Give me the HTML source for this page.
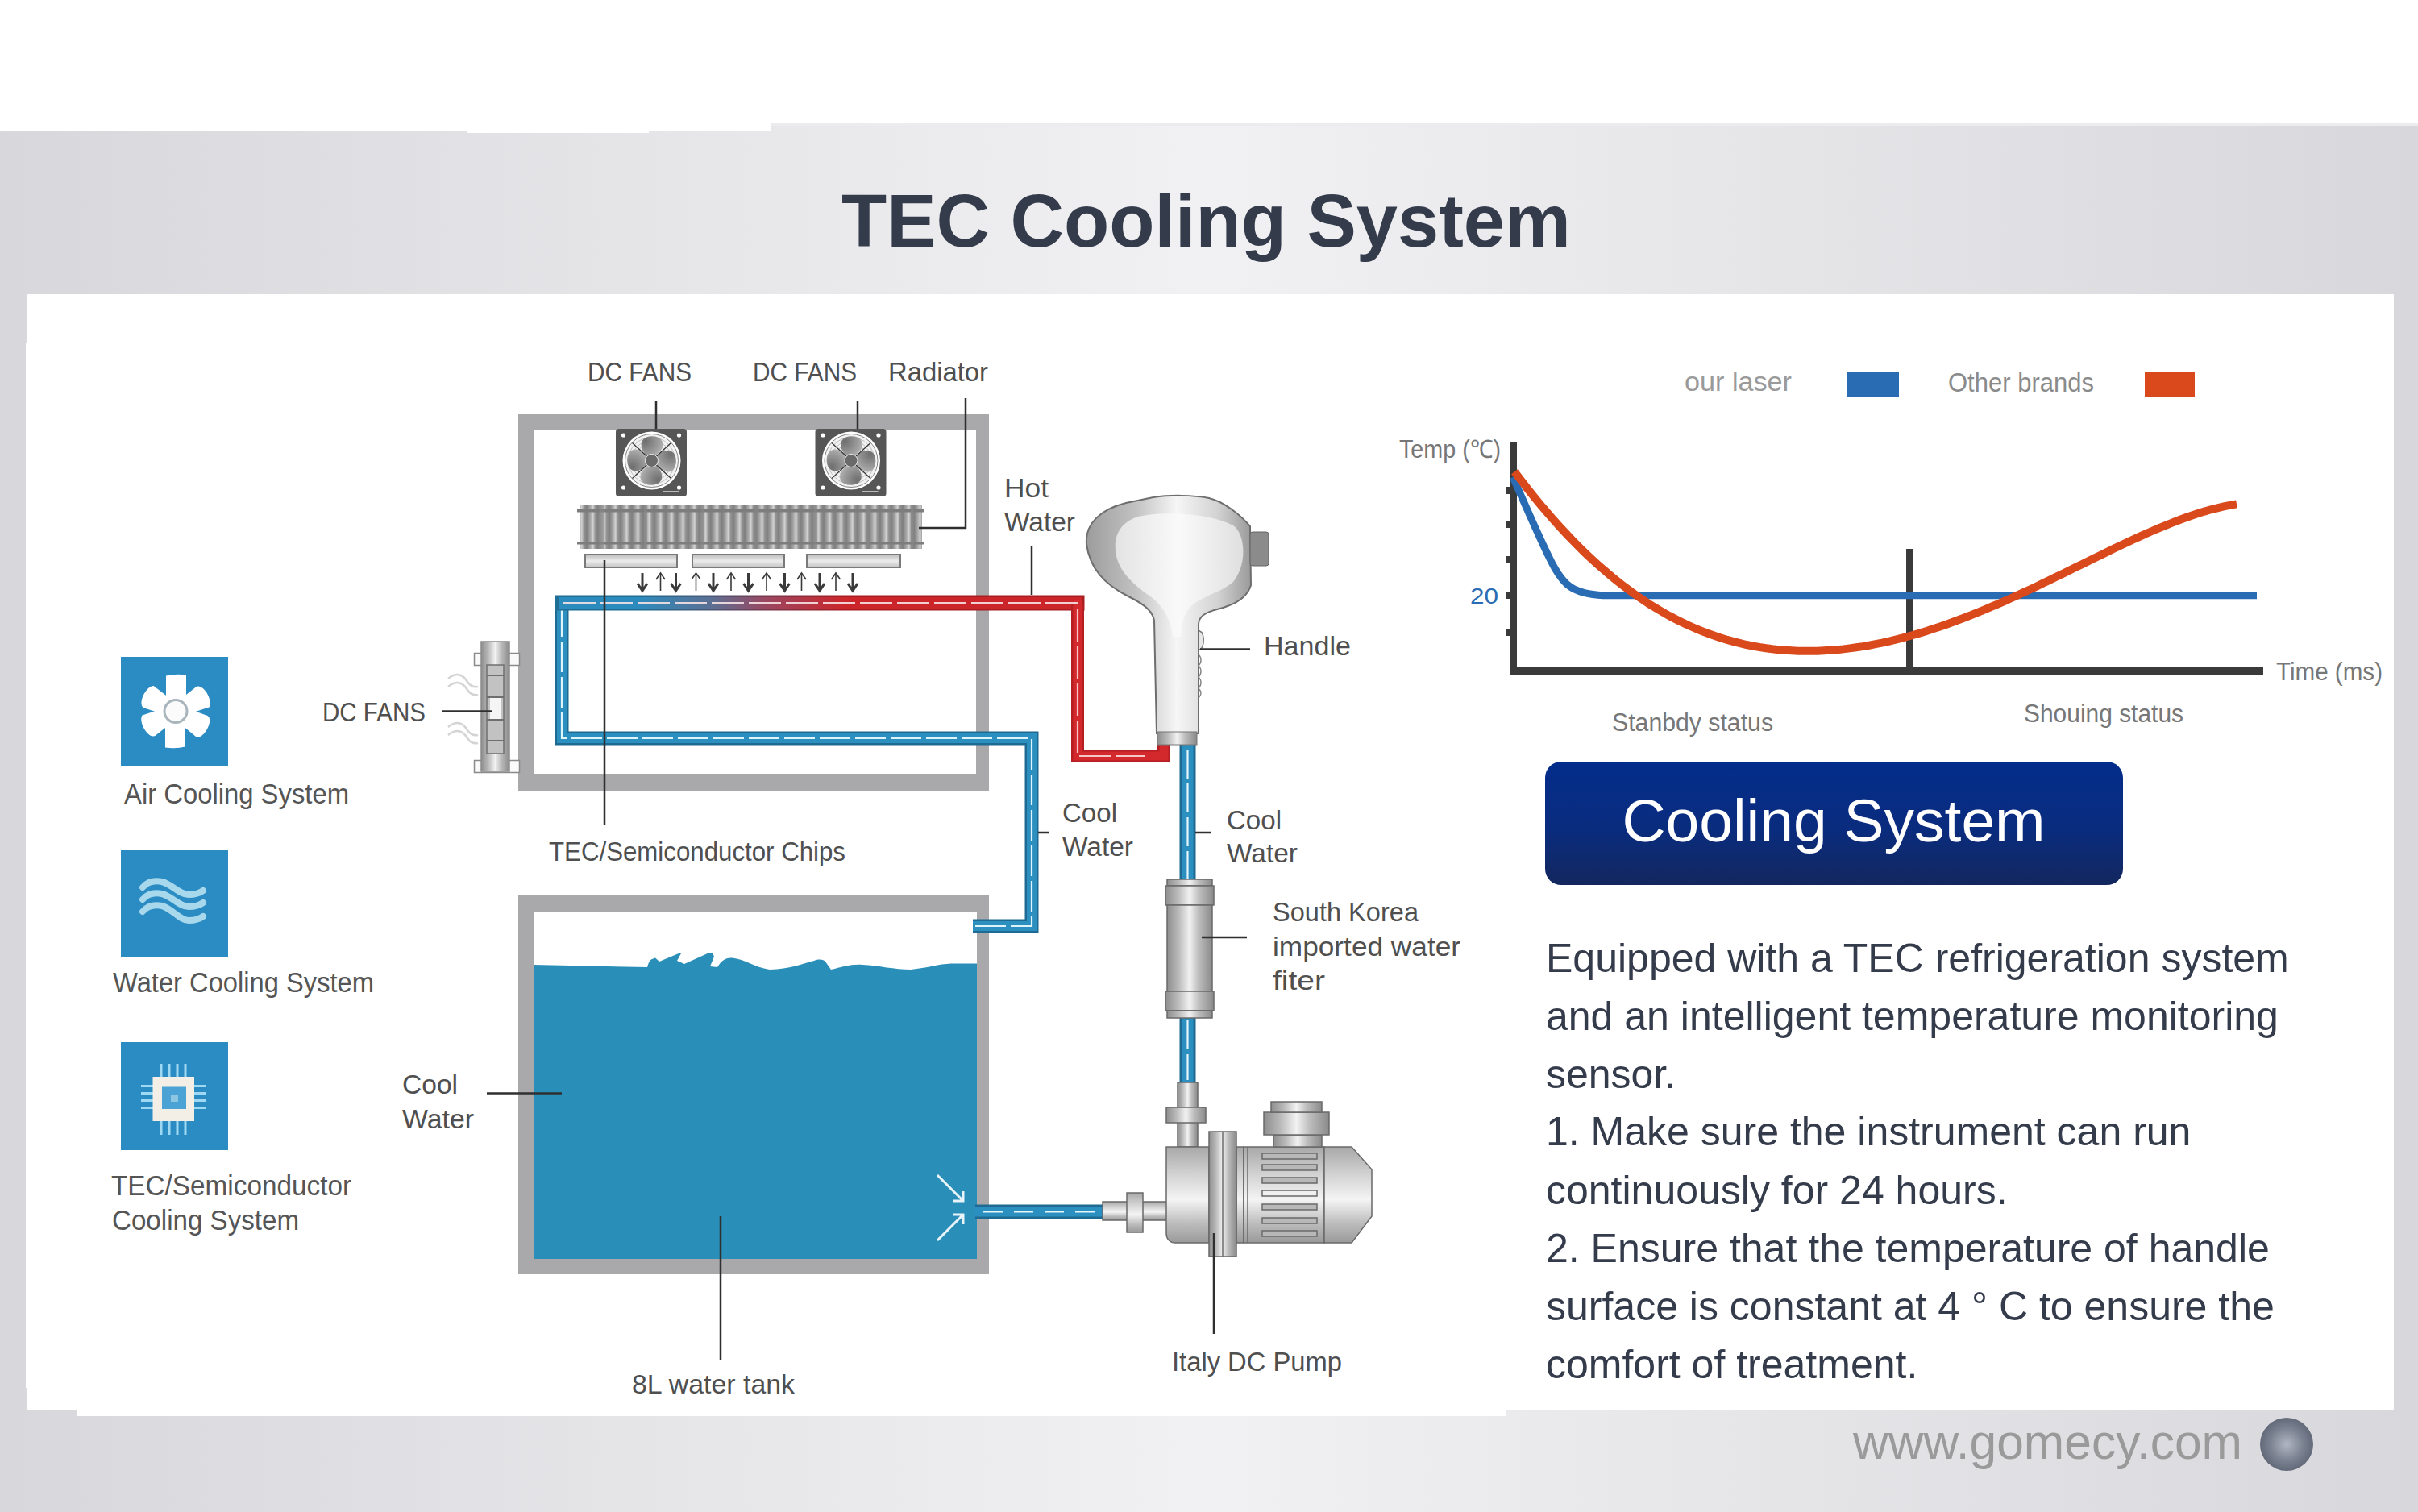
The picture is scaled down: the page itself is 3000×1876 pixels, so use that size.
<!DOCTYPE html>
<html><head><meta charset="utf-8">
<style>
html,body{margin:0;padding:0;width:3000px;height:1876px;overflow:hidden;background:#fff;}
svg{position:absolute;left:0;top:0;display:block;}
text{font-family:"Liberation Sans",sans-serif;}
</style></head><body>
<svg width="3000" height="1876" viewBox="0 0 3000 1876">
<defs>
  <linearGradient id="bg" x1="0" y1="0" x2="1" y2="0">
    <stop offset="0" stop-color="#d8d8dc"/>
    <stop offset="0.5" stop-color="#f1f1f3"/>
    <stop offset="1" stop-color="#d8d8dc"/>
  </linearGradient>
  <linearGradient id="btn" x1="0" y1="0" x2="0" y2="1">
    <stop offset="0" stop-color="#032d8b"/>
    <stop offset="0.55" stop-color="#0a2c7e"/>
    <stop offset="1" stop-color="#13275e"/>
  </linearGradient>
  <radialGradient id="ball" cx="0.5" cy="0.5" r="0.5">
    <stop offset="0" stop-color="#b0b6c2"/>
    <stop offset="0.6" stop-color="#7c8392"/>
    <stop offset="1" stop-color="#626a7a"/>
  </radialGradient>
</defs>
<!-- background band -->
<rect x="0" y="153" width="3000" height="1723" fill="url(#bg)"/>
<rect x="957" y="153" width="2043" height="3" fill="#ececee"/>
<rect x="0" y="153" width="957" height="9" fill="#fff"/>
<rect x="580" y="160" width="225" height="5" fill="#fff"/>
<!-- white panel -->
<rect x="34" y="365" width="2936" height="1385" fill="#fff"/>
<rect x="32" y="425" width="2938" height="1297" fill="#fff"/>
<rect x="96" y="1749" width="1772" height="8" fill="#fff"/>

<!-- title -->
<text x="1044" y="306" font-size="92" font-weight="bold" fill="#343b4b">TEC Cooling System</text>

<!-- footer -->
<text x="2299" y="1810" font-size="60.5" fill="#9a9a9a">www.gomecy.com</text>
<circle cx="2837" cy="1792" r="33" fill="url(#ball)"/>

<!-- left icons -->
<g id="icons">
  <rect x="150" y="815" width="133" height="136" fill="#2b8cc3"/>
  <g transform="translate(218,882.5)" fill="#fff">
    <path d="M-12,-10 L-12,-44 Q0,-47 13,-45 L13,-10 Z"/>
    <path d="M-12,-10 L-12,-44 Q0,-47 13,-45 L13,-10 Z" transform="rotate(180)"/>
    <path d="M-10,-10 L-15,-37 C-14,-47 11,-47 15,-39 L10,-10 Z" transform="rotate(62)"/>
    <path d="M-10,-10 L-15,-37 C-14,-47 11,-47 15,-39 L10,-10 Z" transform="rotate(120)"/>
    <path d="M-10,-10 L-15,-37 C-14,-47 11,-47 15,-39 L10,-10 Z" transform="rotate(242)"/>
    <path d="M-10,-10 L-15,-37 C-14,-47 11,-47 15,-39 L10,-10 Z" transform="rotate(298)"/>
    <circle r="18"/>
    <circle r="14" fill="#fbfbfb" stroke="#a9b5bd" stroke-width="3"/>
  </g>
  <rect x="150" y="1055" width="133" height="133" fill="#2b8cc3"/>
  <g fill="none" stroke="#a8d8ec" stroke-width="8" stroke-linecap="round">
    <path d="M177,1101 C183,1094 191,1092 201,1094 C213,1097 223,1110 234,1110 C242,1110 248,1108 252,1105"/>
    <path d="M177,1116 C183,1109 191,1107 201,1109 C213,1112 223,1125 234,1125 C242,1125 248,1123 252,1120"/>
    <path d="M177,1131 C183,1124 191,1122 201,1124 C213,1127 223,1142 234,1142 C242,1142 248,1140 252,1137"/>
  </g>
  <rect x="150" y="1293" width="133" height="134" fill="#2b8cc3"/>
  <g fill="#9fd8f2">
    <rect x="198.5" y="1320" width="3" height="88"/>
    <rect x="208.5" y="1320" width="3" height="88"/>
    <rect x="218.5" y="1320" width="3" height="88"/>
    <rect x="228.5" y="1320" width="3" height="88"/>
    <rect x="175" y="1346" width="81" height="3"/>
    <rect x="175" y="1355" width="81" height="3"/>
    <rect x="175" y="1364" width="81" height="3"/>
    <rect x="175" y="1373" width="81" height="3"/>
  </g>
  <rect x="189.5" y="1336" width="51.5" height="55" fill="#f3efe6"/>
  <rect x="201" y="1348.5" width="30" height="27.5" fill="#4aa3d4"/>
  <rect x="212" y="1359" width="9" height="8" fill="#8cc6e2"/>
  <g font-size="35" fill="#555">
    <text x="154" y="997" textLength="279" lengthAdjust="spacingAndGlyphs">Air Cooling System</text>
    <text x="140" y="1231" textLength="324" lengthAdjust="spacingAndGlyphs">Water Cooling System</text>
    <text x="138" y="1483" textLength="298" lengthAdjust="spacingAndGlyphs">TEC/Semiconductor</text>
    <text x="139" y="1526" textLength="232" lengthAdjust="spacingAndGlyphs">Cooling System</text>
  </g>
</g>

<!-- diagram -->
<g id="diagram">
  <defs>
    <linearGradient id="pipeTop" gradientUnits="userSpaceOnUse" x1="790" y1="0" x2="1050" y2="0">
      <stop offset="0" stop-color="#2b8bbd"/>
      <stop offset="0.35" stop-color="#5a7094"/>
      <stop offset="0.62" stop-color="#9b4660"/>
      <stop offset="1" stop-color="#cc2529"/>
    </linearGradient>
    <linearGradient id="pipeTopDark" gradientUnits="userSpaceOnUse" x1="790" y1="0" x2="1050" y2="0">
      <stop offset="0" stop-color="#1f6e96"/>
      <stop offset="0.35" stop-color="#4a5a78"/>
      <stop offset="0.62" stop-color="#7a3a50"/>
      <stop offset="1" stop-color="#a81e22"/>
    </linearGradient>
    <linearGradient id="finG" gradientUnits="userSpaceOnUse" x1="0" y1="0" x2="14" y2="0" spreadMethod="repeat">
      <stop offset="0" stop-color="#7e7e7e"/>
      <stop offset="0.3" stop-color="#a4a4a4"/>
      <stop offset="0.55" stop-color="#d2d2d2"/>
      <stop offset="0.75" stop-color="#959595"/>
      <stop offset="1" stop-color="#7e7e7e"/>
    </linearGradient>
    <linearGradient id="chipG" x1="0" y1="0" x2="0" y2="1">
      <stop offset="0" stop-color="#bdbdbd"/>
      <stop offset="0.5" stop-color="#ececec"/>
      <stop offset="1" stop-color="#c4c4c4"/>
    </linearGradient>
    <radialGradient id="bladeG" gradientUnits="userSpaceOnUse" cx="-8" cy="-24" r="30">
      <stop offset="0" stop-color="#6e6e6e"/>
      <stop offset="0.6" stop-color="#a0a0a0"/>
      <stop offset="1" stop-color="#d0d0d0"/>
    </radialGradient>
    <g id="fan">
      <rect x="0" y="0" width="88" height="84" rx="4" fill="#565656"/>
      <circle cx="44.5" cy="39.5" r="36" fill="#fff"/>
      <circle cx="44.5" cy="39.5" r="33" fill="#f2f2f2" stroke="#666" stroke-width="0.8"/>
      <g transform="translate(44.5,39.5)">
        <g stroke="#999" stroke-width="0.6" fill="none">
          <circle r="29"/><circle r="25"/><circle r="21"/><circle r="17"/>
        </g>
        <g fill="url(#bladeG)">
          <path d="M-6,-6 C-16,-16 -15,-28 -3,-30 C10,-32 17,-24 13,-15 C11,-11 7,-8 5,-6 Z"/>
          <path d="M-6,-6 C-16,-16 -15,-28 -3,-30 C10,-32 17,-24 13,-15 C11,-11 7,-8 5,-6 Z" transform="rotate(90)"/>
          <path d="M-6,-6 C-16,-16 -15,-28 -3,-30 C10,-32 17,-24 13,-15 C11,-11 7,-8 5,-6 Z" transform="rotate(180)"/>
          <path d="M-6,-6 C-16,-16 -15,-28 -3,-30 C10,-32 17,-24 13,-15 C11,-11 7,-8 5,-6 Z" transform="rotate(270)"/>
        </g>
        <g stroke="#333" stroke-width="1.2">
          <line x1="-24" y1="-22" x2="24" y2="22"/>
          <line x1="-24" y1="22" x2="24" y2="-22"/>
        </g>
        <circle r="8" fill="#6a6a6a" stroke="#eee" stroke-width="1"/>
      </g>
      <g fill="#fff"><circle cx="9.5" cy="8" r="2.6"/><circle cx="78.5" cy="8" r="2.6"/><circle cx="9.5" cy="73" r="2.6"/><circle cx="78.5" cy="73" r="2.6"/></g>
      <rect x="58" y="77" width="20" height="2" fill="#bbb"/>
    </g>
  </defs>

  <!-- upper box frame -->
  <path d="M643,514 H1227 V982 H643 Z M662,534 V960 H1211 V534 Z" fill="#a9a8aa" fill-rule="evenodd"/>
  <!-- lower tank frame -->
  <path d="M643,1110 H1227 V1581 H643 Z M662,1131 V1562 H1212 V1131 Z" fill="#a9a8aa" fill-rule="evenodd"/>
  <!-- water -->
  <path d="M662,1197 L803,1200 C805,1194 806,1191 809,1190 L813,1188.5 L818,1193 L842,1183 L845,1183 L840,1192 L849,1196 L880,1182 L884,1182 L886,1187 L881,1199 L890,1200 C895,1192 900,1188 908,1188.5 C925,1190 935,1200 955,1203 C980,1202 995,1196 1010,1192 C1016,1190 1020,1190 1024,1193 L1031,1203 C1045,1200 1055,1196 1070,1197 C1090,1198 1110,1203 1130,1203 C1150,1201 1165,1196 1180,1195.5 L1212,1195.5 L1212,1562 L662,1562 Z" fill="#2a8fb8"/>
  <!-- arrows in tank -->
  <g stroke="#e8f4fa" stroke-width="3" fill="none">
    <path d="M1163,1458 L1195,1490 M1195,1478 V1490 H1183"/>
    <path d="M1163,1539 L1195,1507 M1183,1507 H1195 V1519"/>
  </g>

  <!-- fans -->
  <use href="#fan" x="764" y="532"/>
  <use href="#fan" x="1011.5" y="532"/>

  <!-- radiator -->
  <rect x="720" y="626" width="424" height="55" fill="url(#finG)"/>
  <g fill="#7d7d7d">
    <rect x="716" y="631" width="430" height="4.5"/>
    <rect x="716" y="672.5" width="430" height="3"/>
  </g>
  <g fill="#888" opacity="0.6">
    <rect x="745" y="626" width="4" height="55"/><rect x="799" y="626" width="4" height="55"/><rect x="870" y="626" width="4" height="55"/><rect x="936" y="626" width="4" height="55"/><rect x="1010" y="626" width="4" height="55"/><rect x="1075" y="626" width="4" height="55"/><rect x="1130" y="626" width="4" height="55"/>
  </g>

  <!-- chips -->
  <g fill="url(#chipG)" stroke="#7a7a7a" stroke-width="2">
    <rect x="726" y="688" width="114" height="16"/>
    <rect x="859" y="688" width="114" height="16"/>
    <rect x="1001" y="688" width="116" height="16"/>
  </g>

  <!-- small arrows -->
  <g id="arrows" stroke="#3a3a3a" fill="none" stroke-linecap="butt">
    <path d="M797,711 V731 M791,724 L797,733 L803,724" stroke-width="3"/>
    <path d="M819.5,733 V712 M814,719 L819.5,711 L825,719" stroke-width="1.6"/>
    <path d="M838.5,711 V731 M832.5,724 L838.5,733 L844.5,724" stroke-width="3"/>
    <path d="M863.5,733 V712 M858,719 L863.5,711 L869,719" stroke-width="1.6"/>
    <path d="M885,711 V731 M879,724 L885,733 L891,724" stroke-width="3"/>
    <path d="M907,733 V712 M901.5,719 L907,711 L912.5,719" stroke-width="1.6"/>
    <path d="M928.5,711 V731 M922.5,724 L928.5,733 L934.5,724" stroke-width="3"/>
    <path d="M951,733 V712 M945.5,719 L951,711 L956.5,719" stroke-width="1.6"/>
    <path d="M973.5,711 V731 M967.5,724 L973.5,733 L979.5,724" stroke-width="3"/>
    <path d="M994.5,733 V712 M989,719 L994.5,711 L1000,719" stroke-width="1.6"/>
    <path d="M1017,711 V731 M1011,724 L1017,733 L1023,724" stroke-width="3"/>
    <path d="M1037,733 V712 M1031.5,719 L1037,711 L1042.5,719" stroke-width="1.6"/>
    <path d="M1058,711 V731 M1052,724 L1058,733 L1064,724" stroke-width="3"/>
  </g>

  <!-- pipes -->
  <g fill="none" stroke-linejoin="miter" stroke-linecap="butt">
    <!-- blue loop (left/bottom/right) -->
    <path d="M697,748 V916 H1280 V1149 H1207" stroke="#1f6a92" stroke-width="17"/>
    <path d="M697,748 V916 H1280 V1149 H1207" stroke="#2b8fc0" stroke-width="12"/>
    <path d="M697,752 V916 H1280 V1149 H1210" stroke="#dff3fb" stroke-width="2.2" stroke-dasharray="38 6"/>
    <!-- top horizontal -->
    <path d="M689,748 H1345.5" stroke="url(#pipeTopDark)" stroke-width="19"/>
    <path d="M693,748 H1342" stroke="url(#pipeTop)" stroke-width="14"/>
    <!-- red segment -->
    <path d="M1337,750 V938 H1444 V921" stroke="#b51f24" stroke-width="16"/>
    <path d="M1337,744 V938 H1444 V922" stroke="#d3282c" stroke-width="11"/>
    <path d="M1337,748 H697" stroke="#f6e2e4" stroke-width="2.2" stroke-dasharray="40 6" opacity="0.9"/>
    <path d="M1337,756 V938 H1420" stroke="#f8d8d8" stroke-width="2.2" stroke-dasharray="40 6" opacity="0.9"/>
    <!-- handle to pump -->
    <path d="M1473.5,922 V1344" stroke="#1f6a92" stroke-width="20"/>
    <path d="M1473.5,922 V1344" stroke="#2b8fc0" stroke-width="14"/>
    <path d="M1473.5,930 V1340" stroke="#e6f6fc" stroke-width="2.2" stroke-dasharray="36 6"/>
    <!-- tank outlet -->
    <path d="M1210,1503.5 H1368" stroke="#1f6a92" stroke-width="18"/>
    <path d="M1210,1503.5 H1368" stroke="#2b8fc0" stroke-width="12"/>
    <path d="M1220,1503.5 H1365" stroke="#e6f6fc" stroke-width="2.2" stroke-dasharray="24 14"/>
  </g>
  <!-- parts -->
  <defs>
    <linearGradient id="metalH" x1="0" y1="0" x2="1" y2="0">
      <stop offset="0" stop-color="#8e8e8e"/>
      <stop offset="0.25" stop-color="#b9b9b9"/>
      <stop offset="0.5" stop-color="#f2f2f2"/>
      <stop offset="0.7" stop-color="#bdbdbd"/>
      <stop offset="1" stop-color="#8a8a8a"/>
    </linearGradient>
    <linearGradient id="metalV" x1="0" y1="0" x2="0" y2="1">
      <stop offset="0" stop-color="#a8a8a8"/>
      <stop offset="0.3" stop-color="#d4d4d4"/>
      <stop offset="0.55" stop-color="#f4f4f4"/>
      <stop offset="0.8" stop-color="#bcbcbc"/>
      <stop offset="1" stop-color="#9a9a9a"/>
    </linearGradient>
    <linearGradient id="handleG" x1="0" y1="0" x2="1" y2="0">
      <stop offset="0" stop-color="#9c9c9c"/>
      <stop offset="0.3" stop-color="#c2c2c2"/>
      <stop offset="0.55" stop-color="#f6f6f6"/>
      <stop offset="0.8" stop-color="#d2d2d2"/>
      <stop offset="1" stop-color="#9a9a9a"/>
    </linearGradient>
    <linearGradient id="headIn" x1="0" y1="0" x2="1" y2="0">
      <stop offset="0" stop-color="#e6e6e6"/>
      <stop offset="0.5" stop-color="#fafafa"/>
      <stop offset="1" stop-color="#e2e2e2"/>
    </linearGradient>
  </defs>

  <!-- side fan -->
  <g>
    <g fill="none" stroke="#d4d4d4" stroke-width="2.5">
      <path d="M556,842 C566,834 574,836 580,846 C584,852 588,853 593,852"/>
      <path d="M556,852 C566,844 574,846 580,856 C584,862 588,863 593,862"/>
      <path d="M556,902 C566,894 574,896 580,906 C584,912 588,913 593,912"/>
      <path d="M556,912 C566,904 574,906 580,916 C584,922 588,923 593,922"/>
    </g>
    <g fill="#fafafa" stroke="#8a8a8a" stroke-width="1.5">
      <rect x="588.5" y="810.5" width="56" height="15"/>
      <rect x="588.5" y="943.5" width="56" height="15"/>
    </g>
    <rect x="597" y="796" width="35" height="161" fill="url(#metalH)" stroke="#8a8a8a" stroke-width="1.5"/>
    <rect x="604" y="825" width="21" height="110" fill="#c2c2c2" stroke="#6f6f6f" stroke-width="1.5"/>
    <g fill="#6f6f6f"><rect x="604" y="837" width="21" height="2"/><rect x="604" y="864" width="21" height="2"/><rect x="604" y="892" width="21" height="2"/><rect x="604" y="918" width="21" height="2"/></g>
    <rect x="608" y="866" width="14" height="26" fill="#f5f5f5"/>
  </g>

  <!-- handle -->
  <g>
    <path d="M1431,617 C1450,614 1480,614 1500,618 C1520,623 1540,640 1551,653 L1552,726 C1548,740 1535,750 1510,756 C1495,760 1487,765 1487,775 L1487,910 L1435,910 L1432,770 C1430,758 1420,750 1400,740 C1370,725 1352,705 1348,675 C1346,650 1365,632 1397,624 Z" fill="url(#handleG)" stroke="#6e6e6e" stroke-width="2"/>
    <path d="M1412,641 C1440,634 1500,636 1530,652 C1545,662 1548,700 1530,722 C1515,735 1490,740 1478,752 C1468,762 1466,775 1465,790 L1455,790 C1453,770 1445,755 1430,742 C1410,728 1390,712 1385,690 C1380,665 1390,648 1412,641 Z" fill="url(#headIn)" opacity="0.95"/>
    <rect x="1551" y="660" width="23" height="42" rx="3" fill="#8b8b8b" stroke="#666" stroke-width="1"/>
    <path d="M1487,782 C1492,784 1494,790 1493,798 C1492,804 1489,806 1487,806" fill="#e8e8e8" stroke="#777" stroke-width="1.5"/>
    <path d="M1487,812 C1491,816 1491,822 1487,826 C1491,830 1491,836 1487,840 C1491,844 1491,850 1487,854 C1491,858 1491,862 1487,866" fill="none" stroke="#888" stroke-width="1.5"/>
    <rect x="1436" y="908" width="49" height="16" fill="url(#metalH)" stroke="#777" stroke-width="1"/>
  </g>

  <!-- filter -->
  <g stroke="#6a6a6a" stroke-width="1.5">
    <rect x="1448" y="1091" width="56" height="8" fill="url(#metalH)"/>
    <rect x="1446" y="1099" width="60" height="24" fill="url(#metalH)"/>
    <rect x="1448" y="1123" width="56" height="107" fill="url(#metalH)"/>
    <rect x="1446" y="1230" width="60" height="24" fill="url(#metalH)"/>
    <rect x="1448" y="1254" width="56" height="9" fill="url(#metalH)"/>
  </g>

  <!-- pump -->
  <g stroke="#6a6a6a" stroke-width="1.5">
    <rect x="1461" y="1343" width="25" height="80" fill="url(#metalH)"/>
    <rect x="1447" y="1374" width="49" height="19" fill="url(#metalH)"/>
    <rect x="1368" y="1491" width="80" height="23" fill="url(#metalV)"/>
    <rect x="1398" y="1480" width="20" height="49" fill="url(#metalV)"/>
    <path d="M1447,1423 H1500 V1542 H1458 C1451,1542 1447,1537 1447,1530 Z" fill="url(#metalV)"/>
    <rect x="1534" y="1423" width="9" height="119" fill="url(#metalV)"/>
    <rect x="1543" y="1423" width="100" height="119" fill="url(#metalV)"/>
    <path d="M1643,1423 H1677 L1702,1451 V1509 L1677,1542 H1643 Z" fill="url(#metalV)"/>
    <rect x="1500" y="1404" width="34" height="155" fill="url(#metalH)"/>
    <line x1="1517" y1="1404" x2="1517" y2="1559"/>
    <line x1="1548" y1="1423" x2="1548" y2="1542"/>
    <rect x="1580" y="1408" width="60" height="15" fill="url(#metalH)"/>
    <rect x="1568" y="1380" width="81" height="28" fill="url(#metalH)"/>
    <rect x="1577" y="1367" width="63" height="13" fill="url(#metalH)"/>
  </g>
  <g fill="#b8b8b8" stroke="#6a6a6a" stroke-width="1.5">
    <rect x="1566" y="1431" width="68" height="7"/>
    <rect x="1566" y="1445" width="68" height="7"/>
    <rect x="1566" y="1461" width="68" height="7"/>
    <rect x="1566" y="1477" width="68" height="7" fill="#f0f0f0"/>
    <rect x="1566" y="1494" width="68" height="7"/>
    <rect x="1566" y="1511" width="68" height="7"/>
    <rect x="1566" y="1527" width="68" height="7"/>
  </g>

  <!-- leader lines -->
  <g stroke="#2f2f2f" stroke-width="2.5" fill="none">
    <path d="M814,497 V532"/>
    <path d="M1064,497 V532"/>
    <path d="M1198,494 V655 H1140"/>
    <path d="M750,695 V1023"/>
    <path d="M1280,677 V738"/>
    <path d="M1489,805.5 H1551"/>
    <path d="M1288,1033 H1301"/>
    <path d="M1483,1033 H1502"/>
    <path d="M1491,1163 H1547"/>
    <path d="M1506,1530 V1655"/>
    <path d="M894,1509 V1688"/>
    <path d="M604,1356.5 H697"/>
    <path d="M548,882.5 H611"/>
  </g>

  <!-- labels -->
  <g font-size="34" fill="#4f4f4f">
    <text x="729" y="473" textLength="129" lengthAdjust="spacingAndGlyphs">DC FANS</text>
    <text x="934" y="473" textLength="129" lengthAdjust="spacingAndGlyphs">DC FANS</text>
    <text x="1102" y="473" textLength="124" lengthAdjust="spacingAndGlyphs">Radiator</text>
    <text x="400" y="895" textLength="128" lengthAdjust="spacingAndGlyphs">DC FANS</text>
    <text x="1246" y="616.5" textLength="55" lengthAdjust="spacingAndGlyphs">Hot</text>
    <text x="1246" y="658.5" textLength="88" lengthAdjust="spacingAndGlyphs">Water</text>
    <text x="1568" y="813" textLength="108" lengthAdjust="spacingAndGlyphs">Handle</text>
    <text x="681" y="1068" textLength="368" lengthAdjust="spacingAndGlyphs">TEC/Semiconductor Chips</text>
    <text x="1318" y="1020" textLength="68" lengthAdjust="spacingAndGlyphs">Cool</text>
    <text x="1318" y="1062" textLength="88" lengthAdjust="spacingAndGlyphs">Water</text>
    <text x="1522" y="1028.5" textLength="68" lengthAdjust="spacingAndGlyphs">Cool</text>
    <text x="1522" y="1070" textLength="88" lengthAdjust="spacingAndGlyphs">Water</text>
    <text x="1579" y="1143" textLength="181" lengthAdjust="spacingAndGlyphs">South Korea</text>
    <text x="1579" y="1185.5" textLength="233" lengthAdjust="spacingAndGlyphs">imported water</text>
    <text x="1579" y="1228" textLength="65" lengthAdjust="spacingAndGlyphs">fiter</text>
    <text x="499" y="1357" textLength="69" lengthAdjust="spacingAndGlyphs">Cool</text>
    <text x="499" y="1400" textLength="89" lengthAdjust="spacingAndGlyphs">Water</text>
    <text x="784" y="1728.5" textLength="202" lengthAdjust="spacingAndGlyphs">8L water tank</text>
    <text x="1454" y="1701" textLength="211" lengthAdjust="spacingAndGlyphs">Italy DC Pump</text>
  </g>
</g>

<!-- chart -->
<g id="chart">
  <text x="2090" y="485" font-size="34" fill="#9a9a9a" textLength="133" lengthAdjust="spacingAndGlyphs">our laser</text>
  <rect x="2292" y="461" width="64" height="32" fill="#2a6cb3"/>
  <text x="2417" y="486" font-size="33" fill="#8a8a8a" textLength="181" lengthAdjust="spacingAndGlyphs">Other brands</text>
  <rect x="2661" y="461" width="62" height="32" fill="#d9491c"/>
  <text x="1736" y="568" font-size="31" fill="#777" textLength="126" lengthAdjust="spacingAndGlyphs">Temp (℃)</text>
  <text x="1824" y="749" font-size="28" fill="#2a6cb3" textLength="35" lengthAdjust="spacingAndGlyphs">20</text>
  <text x="2824" y="844" font-size="31" fill="#777" textLength="132" lengthAdjust="spacingAndGlyphs">Time (ms)</text>
  <text x="2000" y="907" font-size="31" fill="#777" textLength="200" lengthAdjust="spacingAndGlyphs">Stanbdy status</text>
  <text x="2511" y="896" font-size="31" fill="#777" textLength="198" lengthAdjust="spacingAndGlyphs">Shouing status</text>
  <g fill="#3a3a3a">
    <rect x="1873" y="549" width="9" height="288"/>
    <rect x="1873" y="828" width="935" height="9"/>
    <rect x="2365" y="681" width="9" height="150"/>
    <rect x="1868" y="604" width="8" height="9"/>
    <rect x="1868" y="646" width="8" height="9"/>
    <rect x="1868" y="690" width="8" height="9"/>
    <rect x="1868" y="734" width="8" height="9"/>
    <rect x="1868" y="780" width="8" height="9"/>
  </g>
  <path d="M1877,592 C1895,632 1915,680 1929,705 C1940,724 1950,737 1989,738.7 L2800,738.7" fill="none" stroke="#2a6cb3" stroke-width="9"/>
  <path d="M1879,585.3 L1887,595.8 L1895,606.1 L1903,616.1 L1911,625.9 L1919,635.3 L1927,644.5 L1935,653.4 L1943,662.0 L1951,670.4 L1959,678.5 L1967,686.3 L1975,693.8 L1983,701.1 L1991,708.1 L1999,714.9 L2007,721.3 L2015,727.6 L2023,733.5 L2031,739.2 L2039,744.7 L2047,749.9 L2055,754.8 L2063,759.5 L2071,764.0 L2079,768.2 L2087,772.2 L2095,776.0 L2103,779.5 L2111,782.8 L2119,785.9 L2127,788.8 L2135,791.4 L2143,793.9 L2151,796.1 L2159,798.1 L2167,800.0 L2175,801.6 L2183,803.0 L2191,804.2 L2199,805.3 L2207,806.2 L2215,806.8 L2223,807.3 L2231,807.7 L2239,807.8 L2247,807.8 L2255,807.7 L2263,807.3 L2271,806.8 L2279,806.2 L2287,805.4 L2295,804.4 L2303,803.3 L2311,802.1 L2319,800.7 L2327,799.2 L2335,797.6 L2343,795.8 L2351,793.9 L2359,791.9 L2367,789.8 L2375,787.5 L2383,785.2 L2391,782.7 L2399,780.1 L2407,777.4 L2415,774.7 L2423,771.8 L2431,768.8 L2439,765.8 L2447,762.6 L2455,759.4 L2463,756.1 L2471,752.7 L2479,749.3 L2487,745.8 L2495,742.2 L2503,738.6 L2511,734.9 L2519,731.2 L2527,727.4 L2535,723.6 L2543,719.7 L2551,715.8 L2559,711.9 L2567,708.0 L2575,704.1 L2583,700.2 L2591,696.2 L2599,692.3 L2607,688.4 L2615,684.5 L2623,680.6 L2631,676.8 L2639,673.0 L2647,669.3 L2655,665.6 L2663,662.0 L2671,658.5 L2679,655.1 L2687,651.8 L2695,648.6 L2703,645.5 L2711,642.5 L2719,639.7 L2727,637.1 L2735,634.6 L2743,632.3 L2751,630.3 L2759,628.4 L2767,626.8 L2775,625.4 L2775,625.4" fill="none" stroke="#d9491c" stroke-width="10"/>
</g>

<!-- button -->
<rect x="1917" y="945" width="717" height="153" rx="20" fill="url(#btn)"/>
<text x="2275" y="1044" font-size="75" fill="#fff" text-anchor="middle">Cooling System</text>

<!-- body text -->
<g font-size="50" fill="#343b4b">
<text x="1918" y="1206">Equipped with a TEC refrigeration system</text>
<text x="1918" y="1278">and an intelligent temperature monitoring</text>
<text x="1918" y="1350">sensor.</text>
<text x="1918" y="1421">1. Make sure the instrument can run</text>
<text x="1918" y="1494">continuously for 24 hours.</text>
<text x="1918" y="1566">2. Ensure that the temperature of handle</text>
<text x="1918" y="1638">surface is constant at 4 ° C to ensure the</text>
<text x="1918" y="1710">comfort of treatment.</text>
</g>

</svg>
</body></html>
